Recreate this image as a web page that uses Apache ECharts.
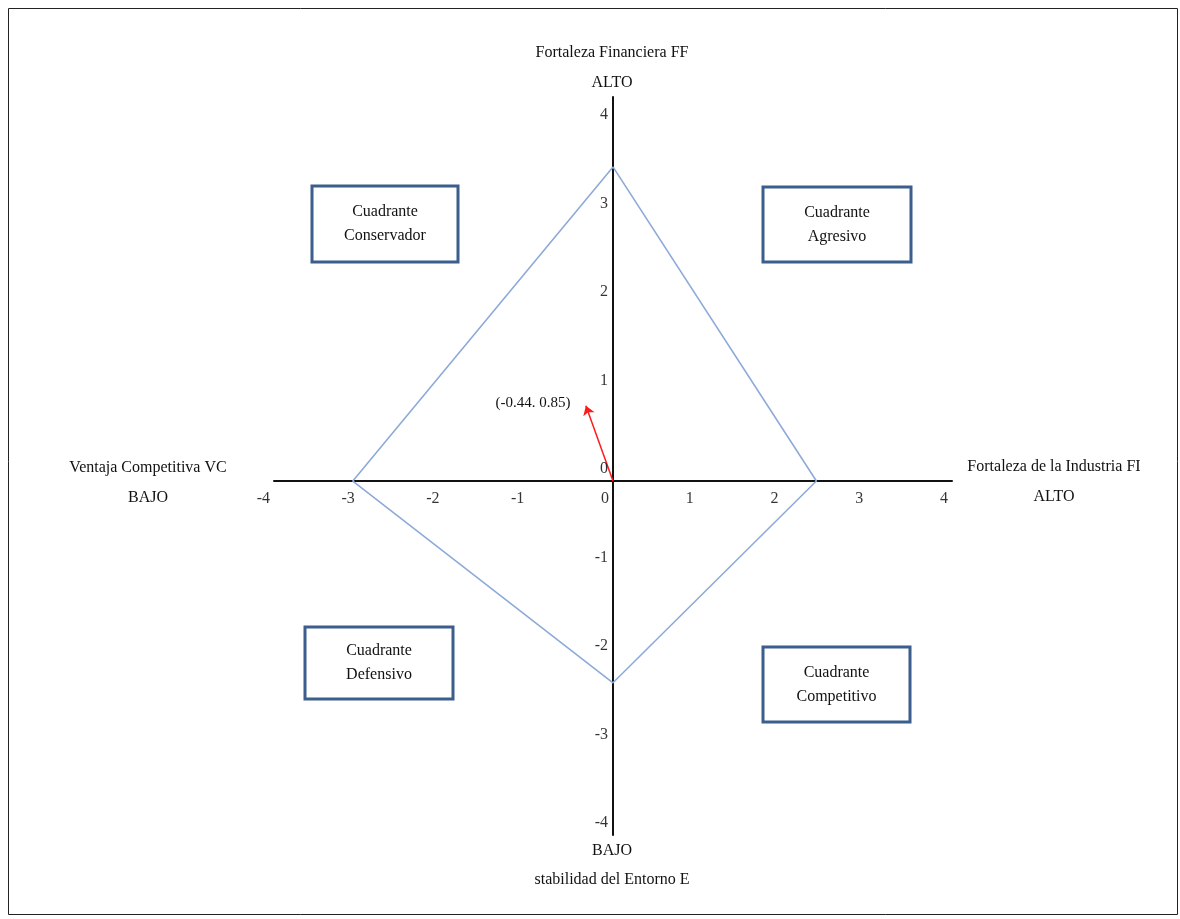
<!DOCTYPE html>
<html><head><meta charset="utf-8">
<script src="https://cdn.jsdelivr.net/npm/echarts@6/dist/echarts.min.js"></script>
<style>html,body{margin:0;padding:0;background:#fff}#c{width:1180px;height:919px}</style>
</head><body><div id="c"></div>
<script>
// ---- data ----
const xTickValues = [-4, -3, -2, -1, 0, 1, 2, 3, 4];
const yTickValues = [-4, -3, -2, -1, 0, 1, 2, 3, 4];
const diamondAxes = ['FF', 'FI', 'EE', 'VC'];
const diamondValues = [3.55, 2.4, -2.28, -3.07];
const vectorPoint = [-0.32, 0.85];
const vectorLabel = '(-0.44. 0.85)';
const axisTitles = {
  top: ['Fortaleza Financiera FF', 'ALTO'],
  bottom: ['BAJO', 'stabilidad del Entorno E'],
  left: ['Ventaja Competitiva VC', 'BAJO'],
  right: ['Fortaleza de la Industria FI', 'ALTO']
};
const quadrantNames = ['Cuadrante\nConservador', 'Cuadrante\nAgresivo', 'Cuadrante\nDefensivo', 'Cuadrante\nCompetitivo'];

// ---- chart ----
const FONT = '"Liberation Serif", "DejaVu Serif", serif';
const chart = echarts.init(document.getElementById('c'), null, {renderer: 'canvas'});

const diamondData = [
  [0, diamondValues[0]],
  [diamondValues[1], 0],
  [0, diamondValues[2]],
  [diamondValues[3], 0],
  [0, diamondValues[0]]
];

function txt(text, x, y, size) {
  return {
    type: 'text', z: 10,
    style: {
      text: text, x: x, y: y,
      align: 'center', verticalAlign: 'middle',
      textAlign: 'center', textVerticalAlign: 'middle',
      fontSize: size || 16, fontFamily: FONT, fill: '#111', lineHeight: 24
    }
  };
}
function box(label, x, y, w, h) {
  return {
    type: 'group', z: 10,
    children: [
      {type: 'rect', shape: {x: x, y: y, width: w, height: h},
       style: {fill: '#fff', stroke: '#3b5e8c', lineWidth: 3}},
      {type: 'text', style: {
        text: label, x: x + w / 2, y: y + h / 2,
        align: 'center', verticalAlign: 'middle',
        textAlign: 'center', textVerticalAlign: 'middle',
        fontSize: 16, fontFamily: FONT, fill: '#111', lineHeight: 24}}
    ]
  };
}

const option = {
  backgroundColor: '#fff',
  animation: false,
  grid: {left: 274, right: 228, top: 97, bottom: 84, containLabel: false},
  xAxis: {
    type: 'value', min: xTickValues[0], max: xTickValues[xTickValues.length - 1], interval: 1,
    axisLine: {onZero: true, lineStyle: {color: '#111', width: 2}},
    axisTick: {show: false},
    splitLine: {show: false},
    axisLabel: {show: false}
  },
  yAxis: {
    type: 'value', min: yTickValues[0], max: 4.34, interval: 1,
    axisLine: {onZero: true, lineStyle: {color: '#111', width: 2}},
    axisTick: {show: false},
    splitLine: {show: false},
    axisLabel: {show: false}
  },
  series: [
    {
      type: 'line', data: diamondData, symbol: 'none', z: 3,
      lineStyle: {color: '#8eaad8', width: 1.6}
    },
    {
      type: 'lines', coordinateSystem: 'cartesian2d', z: 4,
      symbol: ['none', 'arrow'], symbolSize: 9,
      lineStyle: {color: '#ff1a1a', width: 1.5, curveness: 0, opacity: 1},
      data: [{coords: [[0, 0], vectorPoint]}]
    },
    {
      // x tick labels, placed on the x axis (which crosses at y = 0)
      type: 'scatter', symbolSize: 0, silent: true, z: 5,
      data: xTickValues.map(v => [v, 0]),
      label: {
        show: true, position: 'bottom', distance: 10,
        align: 'right', padding: [0, 4, 0, 0],
        fontSize: 16, fontFamily: FONT, color: '#000',
        formatter: p => String(p.value[0])
      }
    },
    {
      // y tick labels, placed on the y axis (which crosses at x = 0)
      type: 'scatter', symbolSize: 0, silent: true, z: 5,
      data: yTickValues.map(v => [0, v]),
      label: {
        show: true, position: 'left', distance: 5,
        verticalAlign: 'middle', offset: [0, -12],
        fontSize: 16, fontFamily: FONT, color: '#000',
        formatter: p => String(p.value[1])
      }
    }
  ],
  graphic: [
    {type: 'rect', z: 0, shape: {x: 8.5, y: 8.5, width: 1169, height: 906},
     style: {fill: 'none', stroke: '#222', lineWidth: 1}},
    txt(axisTitles.top[0], 612, 53),
    txt(axisTitles.top[1], 612, 83),
    txt(axisTitles.bottom[0], 612, 851),
    txt(axisTitles.bottom[1], 612, 880),
    txt(axisTitles.left[0], 148, 468),
    txt(axisTitles.left[1], 148, 498),
    txt(axisTitles.right[0], 1054, 467),
    txt(axisTitles.right[1], 1054, 497),
    txt(vectorLabel, 533, 403, 15),
    box(quadrantNames[0], 312, 186, 146, 76),
    box(quadrantNames[1], 763, 187, 148, 75),
    box(quadrantNames[2], 305, 627, 148, 72),
    box(quadrantNames[3], 763, 647, 147, 75)
  ]
};
chart.setOption(option);
</script>
</body></html>
